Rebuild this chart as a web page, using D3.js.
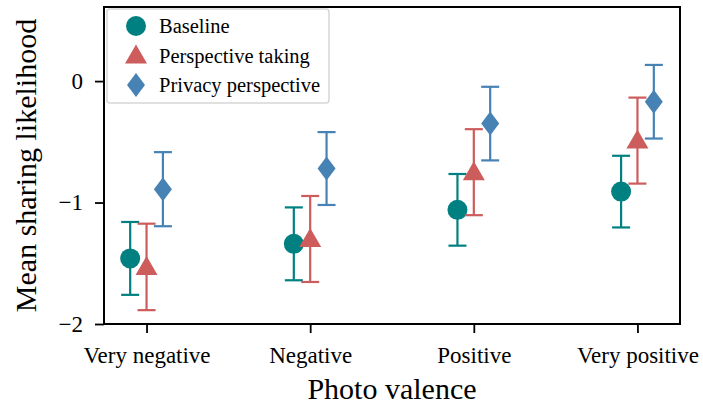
<!doctype html>
<html>
<head>
<meta charset="utf-8">
<script src="https://d3js.org/d3.v7.min.js"></script>
<style>
    body { margin: 0; background: #fff; }
    text { font-family: "Liberation Serif", "DejaVu Serif", serif; fill: #000; }
</style>
</head>
<body>
<svg width="703" height="411"></svg>
<script>

    // chart values
    var categories = ["Very negative", "Negative", "Positive", "Very positive"];
    var seriesNames = ["Baseline", "Perspective taking", "Privacy perspective"];
    var baselineMean = [-1.46, -1.34, -1.06, -0.91];
    var baselineErr = [0.30, 0.30, 0.295, 0.295];
    var perspectiveMean = [-1.53, -1.30, -0.75, -0.49];
    var perspectiveErr = [0.356, 0.354, 0.354, 0.354];
    var privacyMean = [-0.89, -0.72, -0.35, -0.17];
    var privacyErr = [0.305, 0.30, 0.303, 0.303];
    var yTicks = [0, -1, -2];

    var colors = ["#008080", "#cd5c5c", "#4682b4"];
    var offsets = [-0.1, 0, 0.1];
    var shapes = ["circle", "triangle", "diamond"];

    var series = [
        { name: seriesNames[0], mean: baselineMean, err: baselineErr },
        { name: seriesNames[1], mean: perspectiveMean, err: perspectiveErr },
        { name: seriesNames[2], mean: privacyMean, err: privacyErr }
    ];

    var svg = d3.select("svg"),
        mLeft = 104, mRight = 680, mTop = 7, mBottom = 324;

    var x = d3.scaleLinear().domain([-0.26, 3.26]).range([mLeft, mRight]);
    var y = d3.scaleLinear().domain([-2, 0.61]).range([mBottom, mTop]);

    function fmt(d) { return d < 0 ? "\u2212" + Math.abs(d) : "" + d; }

    function marker(shape) {
        if (shape === "diamond") {
            // thin diamond like matplotlib "d"
            return "M0,-12L9,0L0,12L-9,0Z";
        }
        if (shape === "triangle") {
            return "M0,-11L11,8L-11,8Z";
        }
        return d3.symbol().type(d3.symbolCircle).size(Math.PI * 10 * 10)();
    }

    // y axis
    var yAxis = svg.append("g")
        .attr("transform", "translate(" + mLeft + ",0)")
        .call(d3.axisLeft(y).tickValues(yTicks).tickFormat(fmt).tickSize(9).tickPadding(12));
    yAxis.select(".domain").remove();
    yAxis.selectAll("line").attr("stroke-width", 1.8);
    yAxis.selectAll("text").style("font-size", "23px").attr("fill", "#000");

    // x axis
    var xAxis = svg.append("g")
        .attr("transform", "translate(0," + mBottom + ")")
        .call(d3.axisBottom(x).tickValues([0, 1, 2, 3])
            .tickFormat(function(d) { return categories[d]; })
            .tickSize(9).tickPadding(14));
    xAxis.select(".domain").remove();
    xAxis.selectAll("line").attr("stroke-width", 1.8);
    xAxis.selectAll("text").style("font-size", "23px").attr("fill", "#000");

    // frame
    svg.append("rect")
        .attr("x", mLeft).attr("y", mTop)
        .attr("width", mRight - mLeft).attr("height", mBottom - mTop)
        .attr("fill", "none").attr("stroke", "#000").attr("stroke-width", 2);

    // error bars and markers
    series.forEach(function(s, i) {
        var g = svg.append("g");
        s.mean.forEach(function(m, j) {
            var cx = x(j + offsets[i]);
            var lo = y(m - s.err[j]), hi = y(m + s.err[j]);
            g.append("line")
                .attr("x1", cx).attr("x2", cx).attr("y1", lo).attr("y2", hi)
                .attr("stroke", colors[i]).attr("stroke-width", 2.2);
            [lo, hi].forEach(function(cy) {
                g.append("line")
                    .attr("x1", cx - 9).attr("x2", cx + 9).attr("y1", cy).attr("y2", cy)
                    .attr("stroke", colors[i]).attr("stroke-width", 2.2);
            });
            g.append("path")
                .attr("d", marker(shapes[i]))
                .attr("transform", "translate(" + cx + "," + y(m) + ")")
                .attr("fill", colors[i]);
        });
    });

    // legend
    var legend = svg.append("g");
    legend.append("rect")
        .attr("x", 107).attr("y", 9).attr("width", 222).attr("height", 94)
        .attr("rx", 3).attr("fill", "#fff").attr("fill-opacity", 0.85)
        .attr("stroke", "#d6d6d6").attr("stroke-width", 1.5);
    series.forEach(function(s, i) {
        var ly = 26 + i * 29.5;
        legend.append("path")
            .attr("d", marker(shapes[i]))
            .attr("transform", "translate(136," + ly + ")")
            .attr("fill", colors[i]);
        legend.append("text")
            .attr("x", 159).attr("y", ly + 7)
            .style("font-size", "20.5px")
            .text(s.name);
    });

    // axis titles
    svg.append("text")
        .attr("x", (mLeft + mRight) / 2).attr("y", 399)
        .attr("text-anchor", "middle")
        .style("font-size", "30px")
        .text("Photo valence");

    svg.append("text")
        .attr("transform", "translate(36," + ((mTop + mBottom) / 2) + ") rotate(-90)")
        .attr("text-anchor", "middle")
        .style("font-size", "30px")
        .text("Mean sharing likelihood");

</script>
</body>
</html>
